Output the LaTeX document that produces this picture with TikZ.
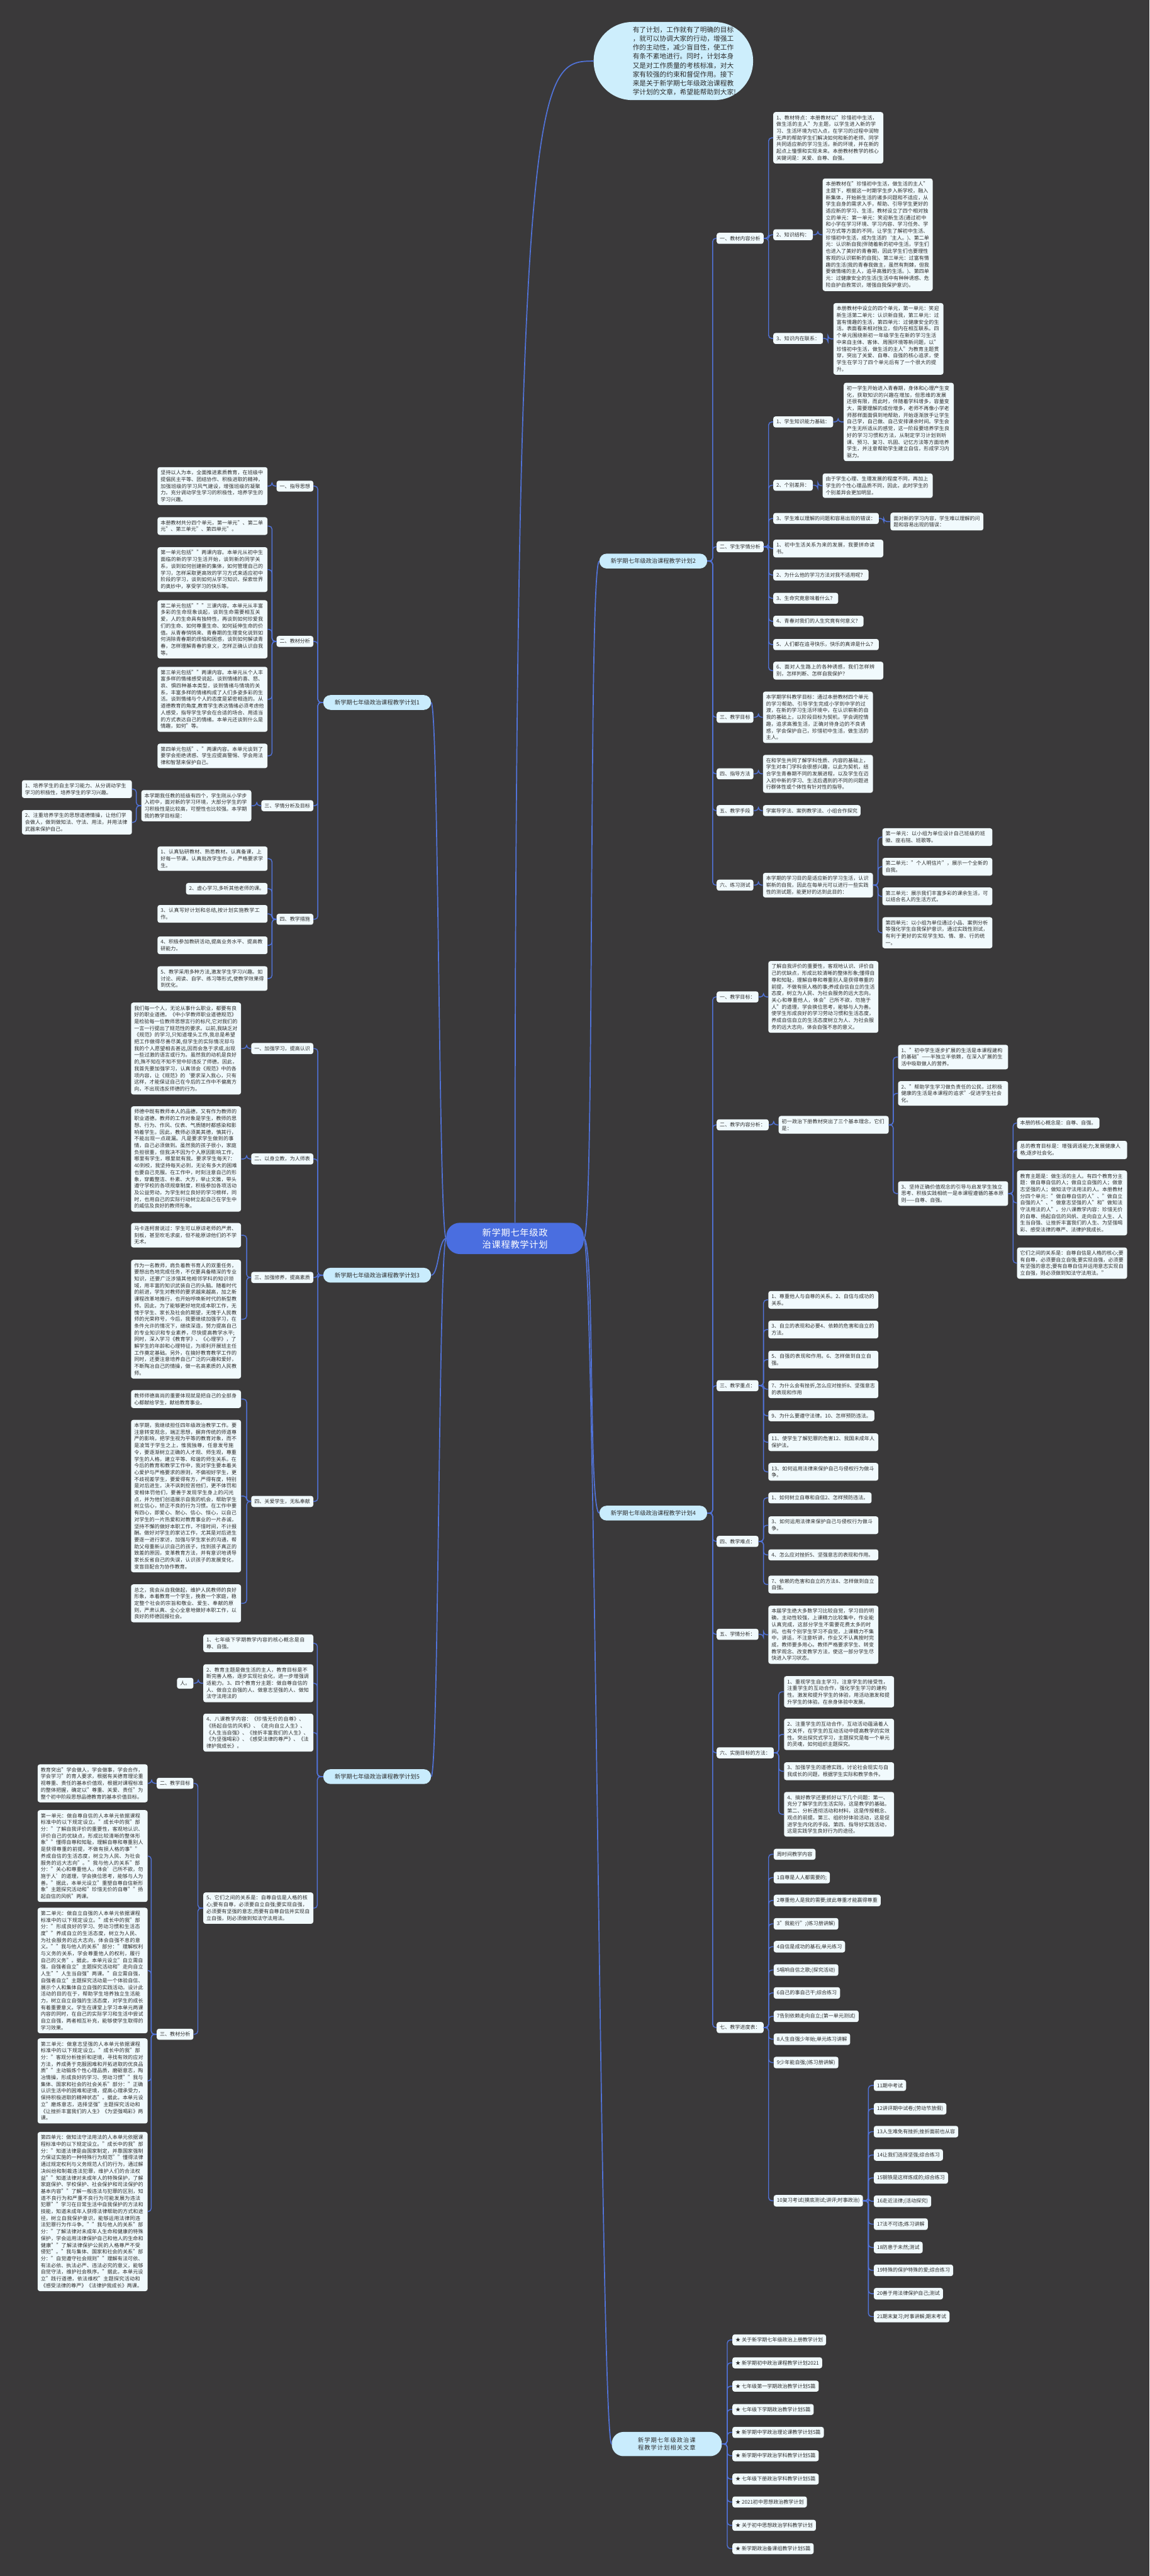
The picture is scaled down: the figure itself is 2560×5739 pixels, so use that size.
\documentclass[tikz,border=0pt]{standalone}
\usepackage{fontspec}
\setmainfont{Noto Sans CJK SC}
\XeTeXlinebreaklocale "zh"
\XeTeXlinebreakskip=0pt plus 1pt
\usetikzlibrary{calc}
\definecolor{bgc}{HTML}{3A393A}
\definecolor{linec}{HTML}{5173D9}
\definecolor{rootc}{HTML}{4A6EE0}
\definecolor{brc}{HTML}{C9ECFD}
\definecolor{bubc}{HTML}{CDEEFC}
\definecolor{leafc}{HTML}{F1FAFD}
\definecolor{txtc}{HTML}{2E2E2E}
\newcommand\rconn[3]{\draw[conn] (#1.east) -- ++(#3,0) |- (#2.west);}
\newcommand\lconn[3]{\draw[conn] (#1.west) -- ++(-#3,0) |- (#2.east);}
\begin{document}
\begin{tikzpicture}[x=1pt,y=-1pt,
  conn/.style={draw=linec,line width=2pt,rounded corners=7pt},
  mainconn/.style={draw=linec,line width=2.4pt},
  leaf/.style={rectangle,rounded corners=5pt,fill=leafc,text=txtc,font=\fontsize{11.3}{15}\selectfont,inner xsep=7pt,inner ysep=7pt,align=left},
  lw/.style={leaf,text width=231pt},
  lr/.style={leaf,anchor=west},
  ll/.style={leaf,anchor=east},
  wr/.style={lw,anchor=west},
  wl/.style={lw,anchor=east},
  branch/.style={rectangle,rounded corners=16pt,fill=brc,text=txtc,font=\fontsize{13}{17}\selectfont,minimum width=240pt,minimum height=33pt,inner sep=4pt},
]
\fill[bgc] (0,0) rectangle (2560,5739);
\useasboundingbox (0,0) rectangle (2560,5739);

% ---------- top bubble and root ----------
\node[rectangle,rounded corners=86pt,fill=bubc,minimum width=355pt,minimum height=174pt,inner sep=0pt,anchor=west] (bubble) at (1322,136) {};
\node[text=txtc,font=\fontsize{15}{20}\selectfont,align=left,inner sep=0pt,anchor=west] (bubtext) at (1409,136) {有了计划，工作就有了明确的目标\\，就可以协调大家的行动，增强工\\作的主动性，减少盲目性，使工作\\有条不紊地进行。同时，计划本身\\又是对工作质量的考核标准，对大\\家有较强的约束和督促作用。接下\\来是关于新学期七年级政治课程教\\学计划的文章，希望能帮助到大家!};
\node[rectangle,rounded corners=30pt,fill=rootc,text=white,font=\fontsize{20}{27}\selectfont,text width=222pt,align=center,inner xsep=42pt,inner ysep=12pt,anchor=north] (root) at (1147,2724) {新学期七年级政治课程教学计划};

\node[branch] (br2) at (1455,1250) {新学期七年级政治课程教学计划2};
\node[branch] (br1) at (840,1565) {新学期七年级政治课程教学计划1};
\node[branch] (br3) at (840,2841) {新学期七年级政治课程教学计划3};
\node[branch] (br4) at (1455,3371) {新学期七年级政治课程教学计划4};
\node[branch] (br5) at (840,3958) {新学期七年级政治课程教学计划5};
\node[branch,rounded corners=26pt,text width=200pt,align=center,minimum width=245pt,minimum height=54pt] (brR) at (1485,5445) {新学期七年级政治课程教学计划相关文章};

\draw[mainconn] (root.north) .. controls (1147,137) and (1200,137) .. (bubble.west);
\draw[mainconn] (root.east) .. controls +(25,0) and +(-25,0) .. (br2.west);
\draw[mainconn] (root.east) .. controls +(25,0) and +(-25,0) .. (br4.west);
\draw[mainconn] (root.east) .. controls +(25,0) and +(-25,0) .. (brR.west);
\draw[mainconn] (root.west) .. controls +(-17,0) and +(17,0) .. (br1.east);
\draw[mainconn] (root.west) .. controls +(-17,0) and +(17,0) .. (br3.east);
\draw[mainconn] (root.west) .. controls +(-17,0) and +(17,0) .. (br5.east);

% ---------- branch 2 ----------
\node[lr] (b2a) at (1596,531) {一、教材内容分析};
\node[lr] (b2b) at (1596,1218) {二、学生学情分析};
\node[lr] (b2c) at (1596,1598) {三、教学目标};
\node[lr] (b2d) at (1596,1724) {四、指导方法};
\node[lr] (b2e) at (1596,1806) {五、教学手段};
\node[lr] (b2f) at (1596,1972) {六、练习测试};
\foreach \c in {b2a,b2b,b2c,b2d,b2e,b2f} {\rconn{br2}{\c}{12}}

\node[wr] (b2a1) at (1722,307) {1、教材特点：本册教材以"珍惜初中生活，做生活的主人"为主题，以学生进入新的学习、生活环境为切入点，在学习的过程中润物无声的帮助学生们解决如何和新的老师、同学共同适应新的学习生活，新的环境，并在新的起点上憧憬和实现未来。本册教材教学的核心关键词是：关爱、自尊、自强。};
\node[lr] (b2a2) at (1722,523) {2、知识结构：};
\node[lr] (b2a3) at (1722,754) {3、知识内在联系：};
\foreach \c in {b2a1,b2a2,b2a3} {\rconn{b2a}{\c}{11}}
\node[wr] (b2a2a) at (1832,523) {本册教材在"珍惜初中生活，做生活的主人"主题下，根据这一时期学生步入新学校，融入新集体，开始新生活的诸多问题和不适应，从学生自身的需求入手，帮助、引导学生更好的适应新的学习、生活，教材设立了四个相对独立的单元：第一单元：笑迎新生活(通过初中和小学在学习环境、学习内容、学习任务、学习方式等方面的不同，让学生了解初中生活、珍惜初中生活，成为生活的`主人。)、第二单元：认识新自我(伴随着新的初中生活，学生们也进入了美好的青春期，因此学生们也要理性客观的认识崭新的自我)、第三单元：过富有情趣的生活(我的青春我做主，虽然有荆棘，但我要做情绪的主人，追寻高雅的生活。)、第四单元：过健康安全的生活(生活中有种种诱惑、危险自护自救常识，增强自我保护意识)。};
\rconn{b2a2}{b2a2a}{11}
\node[wr] (b2a3a) at (1856,755) {本册教材中设立的四个单元，第一单元：笑迎新生活第二单元：认识新自我，第三单元：过富有情趣的生活，第四单元：过健康安全的生活。表面看来相对独立，但内在相互联系。四个单元围绕新初一年级学生在新的学习生活中来自主体、客体、周围环境等新问题，以"珍惜初中生活，做生活的主人"为教育主题贯穿，突出了关爱、自尊、自强的核心追求，使学生在学习了四个单元后有了一个很大的提升。};
\rconn{b2a3}{b2a3a}{11}

\node[lr] (b2b1) at (1722,940) {1、学生知识能力基础：};
\node[lr] (b2b2) at (1722,1081) {2、个别差异：};
\node[lr] (b2b3) at (1722,1155) {3、学生难以理解的问题和容易出现的错误：};
\node[wr] (b2b4) at (1722,1222) {1、初中生活关系为来的发展，我要拼命读书。};
\node[lr] (b2b5) at (1722,1281) {2、为什么他的学习方法对我不适用呢？};
\node[lr] (b2b6) at (1722,1333) {3、生命究竟意味着什么？};
\node[lr] (b2b7) at (1722,1384) {4、青春对我们的人生究竟有何意义？};
\node[lr] (b2b8) at (1722,1436) {5、人们都在追寻快乐，快乐的真谛是什么？};
\node[wr] (b2b9) at (1722,1494) {6、面对人生路上的各种诱惑，我们怎样辨别，怎样判断、怎样自我保护？};
\foreach \c in {b2b1,b2b2,b2b3,b2b4,b2b5,b2b6,b2b7,b2b8,b2b9} {\rconn{b2b}{\c}{11}}
\node[wr] (b2b1a) at (1879,940) {初一学生开始进入青春期，身体和心理产生变化，获取知识的兴趣在增加，但思维的发展还很有限，而此时，伴随着学科增多，容量变大，需要理解的成份增多，老师不再像小学老师那样面面俱到地帮助，开始逐渐放手让学生自己学，自己做、自己安排课余时间。学生会产生无所适从的感觉，这一阶段要培养学生良好的学习习惯和方法，从制定学习计划到听课、预习、复习、巩固、记忆方法等方面培养学生，并注意帮助学生建立自信，形成学习内驱力。};
\rconn{b2b1}{b2b1a}{11}
\node[wr] (b2b2a) at (1832,1082) {由于学生心理、生理发展的程度不同，再加上学生的个性心理品质不同，因此，此时学生的个别差异会更加明显。};
\rconn{b2b2}{b2b2a}{11}
\node[leaf,text width=193pt,anchor=west] (b2b3a) at (1983,1162) {面对新的学习内容，学生难以理解的问题和容易出现的错误：};
\rconn{b2b3}{b2b3a}{11}

\node[wr] (b2c1) at (1699,1598) {本学期学科教学目标：通过本册教材四个单元的学习帮助、引导学生完成小学到中学的过渡，在新的学习生活环境中，在认识崭新的自我的基础上，以阶段目标为契机，学会调控情趣，追求高雅生活，正确对待身边的不良诱惑，学会保护自己，珍惜初中生活，做生活的主人。};
\rconn{b2c}{b2c1}{11}
\node[wr] (b2d1) at (1699,1724) {在和学生共同了解学科性质、内容的基础上，学生对本门学科会很感兴趣，以此为契机，结合学生青春期不同的发展进程，以及学生在迈入初中新的学习、生活后遇到的不同的问题进行群体性或个体性有针对性的指导。};
\rconn{b2d}{b2d1}{11}
\node[lr] (b2e1) at (1699,1806) {学案导学法、案例教学法、小组合作探究};
\rconn{b2e}{b2e1}{11}
\node[wr] (b2f1) at (1699,1972) {本学期的学习目的是适应新的学习生活，认识崭新的自我，因此在每单元可以进行一些实践性的测试题，能更好的达到此目的：};
\rconn{b2f}{b2f1}{11}
\node[wr] (b2f1a) at (1965,1865) {第一单元：以小组为单位设计自己班级的班徽、座右铭、班歌等。};
\node[wr] (b2f1b) at (1965,1931) {第二单元："个人明信片"，展示一个全新的自我。};
\node[wr] (b2f1c) at (1965,1997) {第三单元：展示我们丰富多彩的课余生活，可以结合名人的生活方式。};
\node[wr] (b2f1d) at (1965,2078) {第四单元：以小组为单位通过小品、案例分析等强化学生自我保护意识，通过实践性测试，有利于更好的实现学生知、情、意、行的统一。};
\foreach \c in {b2f1a,b2f1b,b2f1c,b2f1d} {\rconn{b2f1}{\c}{11}}

% ---------- branch 1 ----------
\node[ll] (b1a) at (698,1083) {一、指导思想};
\node[ll] (b1b) at (698,1429) {二、教材分析};
\node[ll] (b1c) at (698,1795) {三、学情分析及目标};
\node[ll] (b1d) at (698,2048) {四、教学措施};
\foreach \c in {b1a,b1b,b1c,b1d} {\lconn{br1}{\c}{12}}
\node[wl] (b1a1) at (596,1083) {坚持以人为本，全面推进素质教育，在班级中提倡民主平等、团结协作、积极进取的精神，加强班级的学习风气建设，增强班级的凝聚力。充分调动学生学习的积极性，培养学生的学习兴趣。};
\lconn{b1a}{b1a1}{10}
\node[wl] (b1b1) at (596,1172) {本册教材共分四个单元，第一单元"、第二单元"、第三单元"、第四单元"。};
\node[wl] (b1b2) at (596,1269) {第一单元包括""两课内容。本单元从初中生面临的新的学习生活开始，谈到新的同学关系，谈到如何创建新的集体，如何管理自己的学习，怎样采取更高效的学习方式来适应初中阶段的学习，谈到如何从学习知识、探索世界的奥妙中，享受学习的快乐等。};
\node[wl] (b1b3) at (596,1402) {第二单元包括"""三课内容。本单元从丰富多彩的生命现象谈起，谈到生命需要相互关爱，人的生命具有独特性，再谈到如何珍爱我们的生命、如何尊重生命、如何延伸生命的价值。从青春悄悄来、青春期的生理变化说到如何消除青春期的烦恼和困惑，谈到如何解读青春，怎样理解青春的意义，怎样正确认识自我等。};
\node[wl] (b1b4) at (596,1558) {第三单元包括""两课内容。本单元从个人丰富多样的情绪感受说起，谈到情绪的喜、怒、哀、惧四种基本类型，谈到情绪与情境的关系，丰富多样的情绪构成了人们多姿多彩的生活。谈到情绪与个人的态度是紧密相连的。从道德教育的角度,教育学生表达情绪必须考虑他人感受，指导学生学会在合适的场合、用适当的方式表达自己的情绪。本单元还谈到什么是情趣，如何"等。};
\node[wl] (b1b5) at (596,1684) {第四单元包括"、"两课内容。本单元谈到了要学会拒绝诱惑、学生应提高警惕、学会用法律和智慧来保护自己。};
\foreach \c in {b1b1,b1b2,b1b3,b1b4,b1b5} {\lconn{b1b}{\c}{10}}
\node[wl] (b1c1) at (560,1795) {本学期我任教的班级有四个，学生刚从小学步入初中，面对新的学习环境，大部分学生的学习积极性是比较高，可塑性也比较强。本学期我的教学目标是：};
\lconn{b1c}{b1c1}{10}
\node[wl] (b1c1a) at (294,1758) {1、培养学生的自主学习能力、从分调动学生学习的积极性，培养学生的学习兴趣。};
\node[wl] (b1c1b) at (294,1832) {2、注重培养学生的思想道德情操，让他们学会做人，做到做知法、守法、用法，并用法律武器来保护自己。};
\foreach \c in {b1c1a,b1c1b} {\lconn{b1c1}{\c}{11}}
\node[wl] (b1d1) at (596,1913) {1、认真钻研教材、熟悉教材。认真备课，上好每一节课。认真批改学生作业，严格要求学生。};
\node[ll] (b1d2) at (596,1980) {2、虚心学习,多听其他老师的课。};
\node[wl] (b1d3) at (596,2036) {3、认真写好计划和总结,按计划实施教学工作。};
\node[wl] (b1d4) at (596,2106) {4、积极参加教研活动,提高业务水平、提高教研能力。};
\node[wl] (b1d5) at (596,2180) {5、教学采用多种方法,激发学生学习兴趣。如讨论、阅读、自学、练习等形式,使教学效果得到优化。};
\foreach \c in {b1d1,b1d2,b1d3,b1d4,b1d5} {\lconn{b1d}{\c}{10}}

% ---------- branch 3 ----------
\node[ll] (b3a) at (698,2336) {一、加强学习，提高认识};
\node[ll] (b3b) at (698,2582) {二、以身立教，为人师表};
\node[ll] (b3c) at (698,2846) {三、加强修养，提高素质};
\node[ll] (b3d) at (698,3345) {四、关爱学生，无私奉献};
\foreach \c in {b3a,b3b,b3c,b3d} {\lconn{br3}{\c}{12}}
\node[wl] (b3a1) at (537,2336) {我们每一个人，无论从事什么职业，都要有良好的职业道德。《中小学教师职业道德规范》是检验每一位教师思想言行的标尺,它对我们的一言一行提出了规范性的要求。以前,我缺乏对《规范》的学习,只知道埋头工作,我总是希望把工作做得尽善尽美,但学生的实际情况却与我的个人愿望相去甚远,因而会急于求成,出现一些过激的语言或行为。虽然我的动机是良好的,殊不知在不知不觉中却违反了师德。因此，我首先要加强学习，认真领会《规范》中的各项内容，让《规范》的`要求深入我心，只有这样，才能保证自己在今后的工作中不偏离方向，不出现违反师德的行为。};
\lconn{b3a}{b3a1}{10}
\node[wl] (b3b1) at (537,2582) {师德中既有教师本人的品德，又有作为教师的职业道德。教师的工作对象是学生，教师的思想、行为、作风、仪表、气质随时都感染和影响着学生。因此，教师必须美其德，慎其行，不能出现一点疏漏。凡是要求学生做到的事情，自己必须做到。虽然我的孩子很小，家庭负担很重，但我决不因为个人原因影响工作，哪里有学生，哪里就有我。要求学生每天7：40到校，我坚持每天必到，无论有多大的困难也要自己克服。在工作中，时刻注意自己的形象，穿戴整洁、朴素、大方，举止文雅，带头遵守学校的各项规章制度，积极参加各项活动及公益劳动，为学生树立良好的学习榜样，同时，也用自己的实际行动树立起自己在学生中的威信及良好的教师形象。};
\lconn{b3b}{b3b1}{10}
\node[wl] (b3c1) at (537,2752) {马卡连柯曾说过：学生可以原谅老师的严肃、刻板，甚至吹毛求疵，但不能原谅他们的不学无术。};
\node[wl] (b3c2) at (537,2939) {作为一名教师，肩负着教书育人的双重任务，要想出色地完成任务，不仅要具备精深的专业知识，还要广泛涉猎其他相邻学科的知识领域，用丰富的知识武装自己的头脑。随着时代的前进，学生对教师的要求越来越高，加之新课程改革地推行，也开始呼唤新时代的新型教师。因此，为了能够更好地完成本职工作，无愧于学生、家长及社会的期望，无愧于人民教师的光荣称号，今后，我要继续加强学习，在条件允许的情况下，继续深造，努力提高自己的专业知识和专业素养，尽快提高教学水平;同时，深入学习《教育学》、《心理学》，了解学生的年龄和心理特征，为顺利开展班主任工作奠定基础。另外，在搞好教育教学工作的同时，还要注意培养自己广泛的兴趣和爱好，不断陶冶自己的情操，做一名高素质的人民教师。};
\foreach \c in {b3c1,b3c2} {\lconn{b3c}{\c}{10}}
\node[wl] (b3d1) at (537,3117) {教师师德高尚的重要体现就是把自己的全部身心都献给学生，献给教育事业。};
\node[wl] (b3d2) at (537,3333) {本学期，我继续担任四年级政治教学工作。要注意转变观念，端正思想，摒弃传统的师道尊严的影响，把学生视为平等的教育对象，而不是凌驾于学生之上，惟我独尊，任意发号施令，要逐渐树立正确的人才观、师生观，尊重学生的人格，建立平等、和谐的师生关系。在今后的教育和教学工作中，我对学生要本着关心爱护与严格要求的原则，不偏袒好学生，更不歧视差学生，要爱得有方，严得有度，特别是对后进生，决不讽刺挖苦他们，更不体罚和变相体罚他们，要善于发现学生身上的闪光点，并为他们创造展示自我的机会，帮助学生树立信心，矫正不良的行为习惯。在工作中要有四心，即爱心、耐心、信心、恒心，以自己对学生的一片热爱和对教育事业的一片赤诚，坚持不懈的做好本职工作，不惜时间，不计报酬。做好对学生的家访工作，尤其是对后进生要逐一进行家访，加强与学生家长的沟通，帮助父母重新认识自己的孩子，找到孩子真正的致差的原因，变革教育方法，并有意识地诱导家长反省自己的失误，认识孩子的发展变化，变盲目配合为协作教育。};
\node[wl] (b3d3) at (537,3572) {总之，我会从自我做起，维护人民教师的良好形象，本着教育一个学生，挽救一个家庭，稳定整个社会的宗旨和敬业、爱生、奉献的原则，严肃认真、全心全意地做好本职工作，以良好的师德回报社会。};
\foreach \c in {b3d1,b3d2,b3d3} {\lconn{b3d}{\c}{10}}

% ---------- branch 4 ----------
\node[lr] (b4a) at (1596,2221) {一、教学目标：};
\node[lr] (b4b) at (1596,2506) {二、教学内容分析：};
\node[lr] (b4c) at (1596,3087) {三、教学重点：};
\node[lr] (b4d) at (1596,3434) {四、教学难点：};
\node[lr] (b4e) at (1596,3641) {五、学情分析：};
\node[lr] (b4f) at (1596,3905) {六、实施目标的方法：};
\node[lr] (b4g) at (1596,4517) {七、教学进度表：};
\foreach \c in {b4a,b4b,b4c,b4d,b4e,b4f,b4g} {\rconn{br4}{\c}{12}}
\node[wr] (b4a1) at (1711,2221) {了解自我评价的重要性，客观地认识、评价自己的优缺点，形成比较清晰的整体形象;懂得自尊和知耻，理解自尊和尊重别人是获得尊重的前提，不做有损人格的事;养成自信自立的生活态度，树立为人民、为社会服务的远大志向。关心和尊重他人，体会"己所不欲，勿施于人"的道理，学会换位思考，能够与人为善。使学生形成良好的学习劳动习惯和生活态度，养成自信自立的生活态度树立为人、为社会服务的远大志向，体会自强不息的意义。};
\rconn{b4a}{b4a1}{11}
\node[wr] (b4b1) at (1734,2506) {初一政治下册教材突出了三个基本理念，它们是：};
\rconn{b4b}{b4b1}{11}
\node[wr] (b4b1a) at (2000,2355) {1、"初中学生逐步扩展的生活是本课程建构的基础"——半独立半依赖，在深入扩展的生活中吸取做人的营养。};
\node[wr] (b4b1b) at (2000,2436) {2、"帮助学生学习做负责任的公民，过积极健康的生活是本课程的追求"-促进学生社会化。};
\node[wr] (b4b1c) at (2000,2659) {3、坚持正确价值观念的引导与启发学生独立思考、积极实践相统一是本课程遵循的基本原则——自尊、自强。};
\foreach \c in {b4b1a,b4b1b,b4b1c} {\rconn{b4b1}{\c}{10}}
\node[lr] (b4c1a) at (2265,2502) {本册的核心概念是：自尊、自强。};
\node[wr] (b4c1b) at (2265,2562) {总的教育目标是：增强调适能力;发展健康人格;逐步社会化。};
\node[wr] (b4c1c) at (2265,2680) {教育主题是：做生活的主人。有四个教育分主题：做自尊自信的人；做自立自强的人；做意志坚强的人；做知法守法用法的人。本册教材分四个单元："做自尊自信的人"、"做自立自强的人"、"做意志坚强的人"和"做知法守法用法的人"。分八课教学内容：珍惜无价的自尊、扬起自信的风帆、走向自立人生、人生当自强、让挫折丰富我们的人生、为坚强喝彩、感受法律的尊严、法律护我成长。};
\node[wr] (b4c1d) at (2265,2814) {它们之间的关系是：自尊自信是人格的核心;要有自尊，必须要自立自强;要实现自强，必须要有坚强的意志;要有自尊自信并运用意志实现自立自强，则必须做到知法守法用法。"};
\foreach \c in {b4c1a,b4c1b,b4c1c,b4c1d} {\rconn{b4b1c}{\c}{11}}

\node[wr] (b4c1) at (1711,2896) {1、尊重他人与自尊的关系。2、自信与成功的关系。};
\node[wr] (b4c2) at (1711,2962) {3、自立的表现和必要4、依赖的危害和自立的方法。};
\node[wr] (b4c3) at (1711,3029) {5、自强的表现和作用。6、怎样做到自立自强。};
\node[wr] (b4c4) at (1711,3095) {7、为什么会有挫折,怎么应对挫折8、坚强意志的表现和作用};
\node[lr] (b4c5) at (1711,3154) {9、为什么要遵守法律。10、怎样预防违法。};
\node[wr] (b4c6) at (1711,3213) {11、使学生了解犯罪的危害12、我国未成年人保护法。};
\node[wr] (b4c7) at (1711,3279) {13、如何运用法律来保护自己与侵权行为做斗争。};
\foreach \c in {b4c1,b4c2,b4c3,b4c4,b4c5,b4c6,b4c7} {\rconn{b4c}{\c}{11}}
\node[lr] (b4d1) at (1711,3337) {1、如何树立自尊和自信2、怎样预防违法。};
\node[wr] (b4d2) at (1711,3398) {3、如何运用法律来保护自己与侵权行为做斗争。};
\node[wr] (b4d3) at (1711,3464) {4、怎么应对挫折5、坚强意志的表现和作用。};
\node[wr] (b4d4) at (1711,3530) {7、依赖的危害和自立的方法8、怎样做到自立自强。};
\foreach \c in {b4d1,b4d2,b4d3,b4d4} {\rconn{b4d}{\c}{11}}
\node[wr] (b4e1) at (1711,3642) {本届学生绝大多数学习比较自觉，学习目的明确，主动性较强，上课精力比较集中，作业能认真完成，这部分学生不需要花费太多的时间。也有个别学生学习不自觉，上课精力不集中，讲话，不注意听讲，作业又不认真按时完成，教师要多用心。教师严格要求学生、转变教学观念、改变教学方法，使这一部分学生尽快进入学习状态。};
\rconn{b4e}{b4e1}{11}
\node[wr] (b4f1) at (1746,3769) {1、重视学生自主学习，注意学生的接受性，注重学生的互动合作，强化学生学习的建构性。激发和提升学生的体验，用活动激发和提升学生的体验。在亲身体验中发展。};
\node[wr] (b4f2) at (1746,3864) {2、注重学生的互动合作，互动活动蕴涵着人文关怀，在学生的互动活动中提高教学的实效性。突出探究式学习，主题探究是每一个单元的灵魂，如何组织主题探究。};
\node[wr] (b4f3) at (1746,3946) {3、加强学生的道德实践，讨论社会现实与自我成长的问题，根据学生实际和教学条件。};
\node[wr] (b4f4) at (1746,4042) {4、搞好教学还要抓好以下几个问题：第一、充分了解学生的生活实际，这是教学的基础。第二、分析透彻活动和材料，这是传授概念、观点的前提。第三、组织好体验活动，这是促进学生内化的手段。第四、指导好实践活动，这是实践学生良好行为的途径。};
\foreach \c in {b4f1,b4f2,b4f3,b4f4} {\rconn{b4f}{\c}{11}}

\node[lr] (p0) at (1723,4131) {周时间教学内容};
\node[lr] (p1) at (1723,4183) {1自尊是人人都需要的;};
\node[lr] (p2) at (1723,4234) {2尊重他人是我的需要;彼此尊重才能赢得尊重};
\node[lr] (p3) at (1723,4286) {3"我能行";(练习册讲解)};
\node[lr] (p4) at (1723,4337) {4自信是成功的基石;单元练习};
\node[lr] (p5) at (1723,4389) {5唱响自信之歌;(探究活动)};
\node[lr] (p6) at (1723,4440) {6自己的事自己干;综合练习};
\node[lr] (p7) at (1723,4492) {7告别依赖走向自立;(第一单元测试)};
\node[lr] (p8) at (1723,4543) {8人生自强少年始;单元练习讲解};
\node[lr] (p9) at (1723,4595) {9少年能自强;(练习册讲解)};
\node[lr] (p10) at (1723,4903) {10复习考试(摸底测试;讲评;时事政治)};
\foreach \c in {p0,p1,p2,p3,p4,p5,p6,p7,p8,p9,p10} {\rconn{b4g}{\c}{11}}
\node[lr] (q11) at (1946,4646) {11期中考试};
\node[lr] (q12) at (1946,4698) {12讲评期中试卷;(劳动节放假)};
\node[lr] (q13) at (1946,4749) {13人生难免有挫折;挫折面前也从容};
\node[lr] (q14) at (1946,4801) {14让我们选择坚强;综合练习};
\node[lr] (q15) at (1946,4852) {15钢铁是这样炼成的;综合练习};
\node[lr] (q16) at (1946,4904) {16走近法律;(活动探究)};
\node[lr] (q17) at (1946,4955) {17法不可违;练习讲解};
\node[lr] (q18) at (1946,5007) {18防患于未然;测试};
\node[lr] (q19) at (1946,5058) {19特殊的保护特殊的爱;综合练习};
\node[lr] (q20) at (1946,5110) {20善于用法律保护自己;测试};
\node[lr] (q21) at (1946,5161) {21期末复习;时事讲解;期末考试};
\foreach \c in {q11,q12,q13,q14,q15,q16,q17,q18,q19,q20,q21} {\rconn{p10}{\c}{12}}

% ---------- branch 5 ----------
\node[wl] (b5a) at (698,3661) {1、七年级下学期教学内容的核心概念是自尊、自强。};
\node[wl] (b5b) at (698,3750) {2、教育主题是做生活的主人，教育目标是不断完善人格，逐步实现社会化，进一步增强调适能力。3、四个教育分主题：做自尊自信的人、做自立自强的人、做意志坚强的人、做知法守法用法的};
\node[wl] (b5c) at (698,3860) {4、八课教学内容：《珍惜无价的自尊》、《扬起自信的风帆》、《走向自立人生》、《人生当自强》、《挫折丰富我们的人生》、《为坚强喝彩》、《感受法律的尊严》、《法律护我成长》。};
\node[wl] (b5d) at (698,4251) {5、它们之间的关系是：自尊自信是人格的核心;要有自尊，必须要自立自强;要实现自强，必须要有坚强的意志;而要有自尊自信并实现自立自强，则必须做到知法守法用法。};
\foreach \c in {b5a,b5b,b5c,b5d} {\lconn{br5}{\c}{13}}
\node[ll] (b5b1) at (431,3750) {人。};
\lconn{b5b}{b5b1}{11}
\node[ll] (b5d1) at (431,3973) {二、教学目标};
\node[ll] (b5d2) at (431,4532) {三、教材分析};
\foreach \c in {b5d1,b5d2} {\lconn{b5d}{\c}{12}}
\node[wl] (b5d1a) at (329,3973) {教育突出"学会做人，学会做事，学会合作，学会学习"的育人要求，根据有关德育理论重视尊重、责任的基本价值观，根据对课程标准的整体把握，确定以"尊重、关爱、责任"为整个初中阶段思想品德教育的基本价值目标。};
\lconn{b5d1}{b5d1a}{11}
\node[wl] (b5d2a) at (329,4135) {第一单元：做自尊自信的人本单元依据课程标准中的以下规定设立。"成长中的我"部分："了解自我评价的重要性，客观地认识、评价自己的优缺点，形成比较清晰的整体形象""懂得自尊和知耻，理解自尊和尊重别人是获得尊重的前提，不做有损人格的事""养成自信的生活态度，树立为人民、为社会服务的远大志向"。"我与他人的关系"部分："关心和尊重他人，体会'己所不欲，勿施于人'的道理，学会换位思考，能够与人为善。"据此，本单元设立"重塑自尊自信新形象"主题探究活动和"珍惜无价的自尊""扬起自信的风帆"两课。};
\node[wl] (b5d2b) at (329,4390) {第二单元：做自立自强的人本单元依据课程标准中的以下规定设立。"成长中的我"部分："形成良好的学习、劳动习惯和生活态度""养成自立的生活态度，树立为人民、为社会服务的远大志向，体会自强不息的意义。""我与他人的关系"部分："理解权利与义务的关系，学会尊重他人的权利，履行自己的义务"。据此，本单元设立"自立需自强，自强者自立"主题探究活动和"走向自立人生""人生当自强"两课。"自立需自强，自强者自立"主题探究活动是一个体验自信、展示个人和集体自立自强的实践活动。设计此活动的目的在于，帮助学生培养独立生活能力，树立自立自强的生活态度，对学生的成长有着重要意义。学生在课堂上学习本单元两课内容的同时，在自己的实际学习和生活中尝试自立自强，两者相互补充，能够使学生取得的学习效果。};
\node[wl] (b5d2c) at (329,4636) {第三单元：做意志坚强的人本单元依据课程标准中的以下规定设立。"成长中的我"部分："客观分析挫折和逆境，寻找有效的应对方法，养成勇于克服困难和开拓进取的优良品质""主动锻炼个性心理品质，磨砺意志，陶冶情操，形成良好的学习、劳动习惯""我与集体、国家和社会的社会关系"部分："正确认识生活中的困难和逆境，提高心理承受力，保持积极进取的精神状态"。据此，本单元设立"磨炼意志，选择坚强"主题探究活动和《让挫折丰富我们的人生》《为坚强喝彩》两课。};
\node[wl] (b5d2d) at (329,4927) {第四单元：做知法守法用法的人本单元依据课程标准中的以下规定设立。"成长中的我"部分："知道法律是由国家制定，并靠国家强制力保证实施的一种特殊行为规范""懂得法律通过规定权利与义务规范人们的行为，通过解决纠纷和制裁违法犯罪，维护人们的合法权益""知道法律对未成年人的特殊保护，了解家庭保护、学校保护、社会保护和司法保护的基本内容""了解一般违法与犯罪的区别，知道不良行为和严重不良行为可能发展为违法犯罪""学习在日常生活中自我保护的方法和技能，知道未成年人获得法律帮助的方式和途径，树立自我保护意识，能够运用法律同违法犯罪行为作斗争。""我与他人的关系"部分："了解法律对未成年人生命和健康的特殊保护，学会运用法律保护自己和他人的生命和健康""了解法律保护公民的人格尊严不受侵犯"。"我与集体、国家和社会的关系"部分："自觉遵守社会规则""理解有法可依、有法必依、执法必严、违法必究的意义，能够自觉守法，维护社会秩序。"据此，本单元设立"践行道德，依法维权"主题探究活动和《感受法律的尊严》《法律护我成长》两课。};
\foreach \c in {b5d2a,b5d2b,b5d2c,b5d2d} {\lconn{b5d2}{\c}{12}}

% ---------- related ----------
\node[lr] (r1) at (1631,5213) {★ 关于新学期七年级政治上册教学计划};
\node[lr] (r2) at (1631,5264) {★ 新学期初中政治课程教学计划2021};
\node[lr] (r3) at (1631,5316) {★ 七年级第一学期政治教学计划5篇};
\node[lr] (r4) at (1631,5368) {★ 七年级下学期政治教学计划5篇};
\node[lr] (r5) at (1631,5419) {★ 新学期中学政治理论课教学计划5篇};
\node[lr] (r6) at (1631,5471) {★ 新学期中学政治学科教学计划5篇};
\node[lr] (r7) at (1631,5523) {★ 七年级下册政治学科教学计划5篇};
\node[lr] (r8) at (1631,5574) {★ 2021初中思想政治教学计划};
\node[lr] (r9) at (1631,5626) {★ 关于初中思想政治学科教学计划};
\node[lr] (r10) at (1631,5678) {★ 新学期政治备课组教学计划5篇};
\foreach \c in {r1,r2,r3,r4,r5,r6,r7,r8,r9,r10} {\rconn{brR}{\c}{12}}
\end{tikzpicture}
\end{document}
